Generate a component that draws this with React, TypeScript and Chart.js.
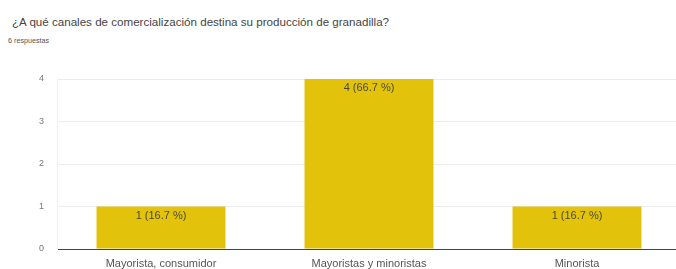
import React, { useEffect, useRef } from "react";
import { Chart, registerables } from "chart.js";

Chart.register(...registerables);

const TITLE = "¿A qué canales de comercialización destina su producción de granadilla?";
const SUBTITLE = "6 respuestas";
const categories = ["Mayorista, consumidor", "Mayoristas y minoristas", "Minorista"];
const counts = [1, 4, 1];
const barLabels = ["1 (16.7 %)", "4 (66.7 %)", "1 (16.7 %)"];
const yTicks = [0, 1, 2, 3, 4];

const FONT = "'Liberation Sans', Arial, sans-serif";

const barLabelPlugin = {
  id: "barLabels",
  afterDatasetsDraw(chart: any) {
    const ctx = chart.ctx;
    const meta = chart.getDatasetMeta(0);
    ctx.save();
    ctx.font = `11px ${FONT}`;
    ctx.fillStyle = "#4a4a3a";
    ctx.textAlign = "center";
    ctx.textBaseline = "middle";
    meta.data.forEach((bar: any, i: number) => {
      ctx.fillText(barLabels[i], bar.x, bar.y + 9);
    });
    ctx.restore();
  },
};

export default function App() {
  const ref = useRef<HTMLCanvasElement>(null);
  useEffect(() => {
    document.body.style.margin = "0";
    const chart = new Chart(ref.current!, {
      type: "bar",
      data: {
        labels: categories,
        datasets: [
          {
            data: counts,
            backgroundColor: "#e3c20b",
            categoryPercentage: 1,
            barPercentage: 0.62,
          },
        ],
      },
      options: {
        animation: false,
        responsive: false,
        maintainAspectRatio: false,
        layout: { padding: { top: 79, right: 0, bottom: 0, left: 0 } },
        plugins: { legend: { display: false }, tooltip: { enabled: false } },
        scales: {
          x: {
            grid: { display: false, drawTicks: false },
            border: { display: true, color: "#444", width: 1 },
            ticks: { color: "#555", font: { family: FONT, size: 11 }, padding: 8, maxRotation: 0 },
            afterFit: (s: any) => { s.height = 20; },
          },
          y: {
            min: 0,
            max: 4,
            afterBuildTicks: (s: any) => { s.ticks = yTicks.map((v) => ({ value: v })); },
            grid: {
              drawTicks: false,
              color: (c: any) => (c.tick && c.tick.value === 0 ? "#444" : "#ececec"),
            },
            border: { display: true, color: "#f0f0f0" },
            ticks: { color: "#777", font: { family: FONT, size: 9 }, padding: 13 },
            afterFit: (s: any) => { s.width = 57; },
          },
        },
      },
      plugins: [barLabelPlugin],
    });
    return () => chart.destroy();
  }, []);

  return (
    <div style={{ position: "relative", width: 676, height: 269, overflow: "hidden", background: "#fff" }}>
      <div style={{ position: "absolute", left: 12, top: 15, fontFamily: FONT, fontSize: 11.6, color: "#444", whiteSpace: "nowrap" }}>
        {TITLE}
      </div>
      <div style={{ position: "absolute", left: 8, top: 36, fontFamily: FONT, fontSize: 7.2, color: "#555", whiteSpace: "nowrap" }}>
        {SUBTITLE}
      </div>
      <canvas ref={ref} width={681} height={269} style={{ position: "absolute", left: 0, top: 0, width: 681, height: 269 }} />
    </div>
  );
}
